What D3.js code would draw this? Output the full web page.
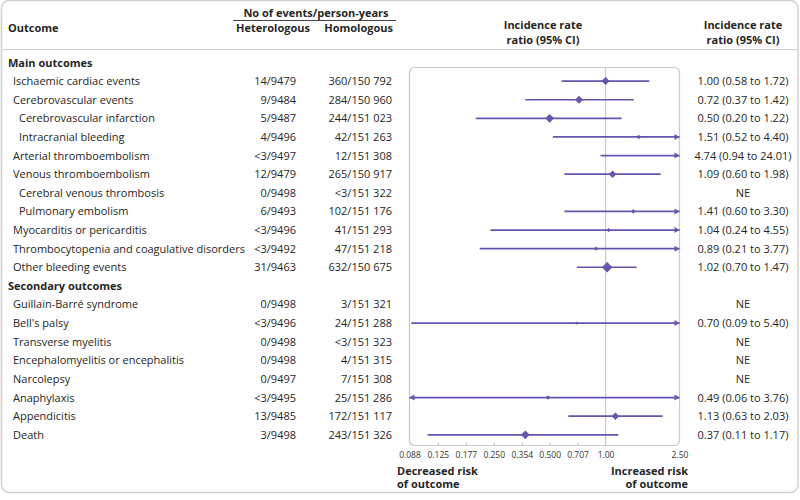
<!DOCTYPE html>
<html><head><meta charset="utf-8">
<script src="https://cdn.jsdelivr.net/npm/d3@7"></script>
<style>
body{margin:0;background:#fff;}
text{font-family:"Open Sans",sans-serif;fill:#262626;}
</style></head>
<body>
<svg id="c" width="800" height="500"></svg>
<script>
const outcomes = ["Main outcomes","Ischaemic cardiac events","Cerebrovascular events","Cerebrovascular infarction","Intracranial bleeding","Arterial thromboembolism","Venous thromboembolism","Cerebral venous thrombosis","Pulmonary embolism","Myocarditis or pericarditis","Thrombocytopenia and coagulative disorders","Other bleeding events","Secondary outcomes","Guillain-Barré syndrome","Bell's palsy","Transverse myelitis","Encephalomyelitis or encephalitis","Narcolepsy","Anaphylaxis","Appendicitis","Death"];
const levels = [0,1,1,2,2,1,1,2,2,1,1,1,0,1,1,1,1,1,1,1,1];
const heterologous = ["","14/9479","9/9484","5/9487","4/9496","<3/9497","12/9479","0/9498","6/9493","<3/9496","<3/9492","31/9463","","0/9498","<3/9496","0/9498","0/9498","0/9497","<3/9495","13/9485","3/9498"];
const homologous = ["","360/150 792","284/150 960","244/151 023","42/151 263","12/151 308","265/150 917","<3/151 322","102/151 176","41/151 293","47/151 218","632/150 675","","3/151 321","24/151 288","<3/151 323","4/151 315","7/151 308","25/151 286","172/151 117","243/151 326"];
const irr = [null,1.00,0.72,0.50,1.51,4.74,1.09,null,1.41,1.04,0.89,1.02,null,null,0.70,null,null,null,0.49,1.13,0.37];
const lower = [null,0.58,0.37,0.20,0.52,0.94,0.60,null,0.60,0.24,0.21,0.70,null,null,0.09,null,null,null,0.06,0.63,0.11];
const upper = [null,1.72,1.42,1.22,4.40,24.01,1.98,null,3.30,4.55,3.77,1.47,null,null,5.40,null,null,null,3.76,2.03,1.17];
const weights = [0,4,4,4.4,2.3,0,3.8,0,2.3,2.1,2.1,5.2,0,0,1.7,0,0,0,2.3,3.8,4.4];
const ciText = ["","1.00 (0.58 to 1.72)","0.72 (0.37 to 1.42)","0.50 (0.20 to 1.22)","1.51 (0.52 to 4.40)","4.74 (0.94 to 24.01)","1.09 (0.60 to 1.98)","NE","1.41 (0.60 to 3.30)","1.04 (0.24 to 4.55)","0.89 (0.21 to 3.77)","1.02 (0.70 to 1.47)","","NE","0.70 (0.09 to 5.40)","NE","NE","NE","0.49 (0.06 to 3.76)","1.13 (0.63 to 2.03)","0.37 (0.11 to 1.17)"];
const tickValues = [0.088,0.125,0.177,0.250,0.354,0.500,0.707,1.00,2.50];
const tickLabels = ["0.088","0.125","0.177","0.250","0.354","0.500","0.707","1.00","2.50"];
const domain = [0.088,2.50];

const svg = d3.select("#c");
const purple = "#6654ad";
const FS = 11;

// outer frame
svg.append("rect").attr("x",1.5).attr("y",0.5).attr("width",796.5).attr("height",492).attr("rx",8)
  .attr("fill","#fff").attr("stroke","#cfcfd3").attr("stroke-width",1.5);
svg.append("line").attr("x1",1.5).attr("x2",798).attr("y1",49.5).attr("y2",49.5).attr("stroke","#d0d0d4").attr("stroke-width",1.2);

// headers
svg.append("text").attr("x",8).attr("y",32).attr("font-size",FS).attr("font-weight",700).text("Outcome");
svg.append("text").attr("x",316).attr("y",17).attr("text-anchor","middle").attr("font-size",FS).attr("font-weight",700).text("No of events/person-years");
svg.append("line").attr("x1",233).attr("x2",396).attr("y1",20.5).attr("y2",20.5).attr("stroke","#444").attr("stroke-width",1);
svg.append("text").attr("x",310).attr("y",32).attr("text-anchor","end").attr("font-size",FS).attr("font-weight",700).text("Heterologous");
svg.append("text").attr("x",393).attr("y",32).attr("text-anchor","end").attr("font-size",FS).attr("font-weight",700).text("Homologous");
[[543,"Incidence rate",29],[543,"ratio (95% CI)",43.5],[743,"Incidence rate",29],[743,"ratio (95% CI)",43.5]].forEach(d=>{
  svg.append("text").attr("x",d[0]).attr("y",d[2]).attr("text-anchor","middle").attr("font-size",FS).attr("font-weight",700).text(d[1]);
});

const x = d3.scaleLog().domain(domain).range([409.5,679.5]);
const y = d3.scaleLinear().domain([0,20]).range([62.5,434.8]);

// plot panel
svg.append("rect").attr("x",x.range()[0]).attr("y",67.5).attr("width",x.range()[1]-x.range()[0]).attr("height",378)
  .attr("rx",5).attr("fill","none").attr("stroke","#c9c9cd").attr("stroke-width",1.2);
svg.append("line").attr("x1",x(1)).attr("x2",x(1)).attr("y1",68).attr("y2",445).attr("stroke","#c9c9cd").attr("stroke-width",1.2);

// axis ticks
const axis = d3.axisBottom(x).tickValues(tickValues).tickFormat((d,i)=>tickLabels[i]).tickSize(0).tickPadding(0);
const ag = svg.append("g").attr("transform","translate(0,445.5)").call(axis);
ag.select(".domain").remove();
ag.selectAll("text").attr("font-size",8.5).attr("dy",0).attr("y",12).style("font-family","Open Sans").style("fill","#333");
ag.selectAll(".tick").filter(d=>d>0.09 && d<0.99).append("line").attr("y1",-3).attr("y2",0).attr("stroke","#bbb");

// rows
const rows = svg.append("g");
outcomes.forEach((o,i)=>{
  const yy = y(i);
  const lx = levels[i]===0?8:(levels[i]===1?13:19);
  rows.append("text").attr("x",lx).attr("y",yy+4).attr("font-size",FS).attr("font-weight",levels[i]===0?700:400).text(o);
  if(heterologous[i]) rows.append("text").attr("x",296).attr("y",yy+4).attr("text-anchor","end").attr("font-size",FS).text(heterologous[i]);
  if(homologous[i]) rows.append("text").attr("x",392).attr("y",yy+4).attr("text-anchor","end").attr("font-size",FS).text(homologous[i]);
  if(ciText[i]) rows.append("text").attr("x",743).attr("y",yy+4).attr("text-anchor","middle").attr("font-size",FS).text(ciText[i]);
  if(lower[i]!=null){
    const lo = Math.max(lower[i],domain[0]), hi = Math.min(upper[i],domain[1]);
    const x1 = x(lo), x2 = x(hi);
    rows.append("line").attr("x1",x1).attr("x2",x2).attr("y1",yy).attr("y2",yy).attr("stroke",purple).attr("stroke-width",1.7);
    if(upper[i]>domain[1]){
      rows.append("path").attr("d",`M${x2},${yy}l-5,-3v6z`).attr("fill",purple);
    }
    if(lower[i]<domain[0]){
      rows.append("path").attr("d",`M${x1},${yy}l5,-3v6z`).attr("fill",purple);
    }
    if(irr[i]<=domain[1] && weights[i]>0){
      const s = weights[i], cx = x(irr[i]);
      rows.append("path").attr("d",`M${cx},${yy-s}L${cx+s},${yy}L${cx},${yy+s}L${cx-s},${yy}Z`).attr("fill",purple);
    }
  }
});

// bottom labels
[["Decreased risk",397,474.5,"start"],["of outcome",397,488,"start"],["Increased risk",688,474.5,"end"],["of outcome",688,488,"end"]].forEach(d=>{
  svg.append("text").attr("x",d[1]).attr("y",d[2]).attr("text-anchor",d[3]).attr("font-size",FS).attr("font-weight",700).text(d[0]);
});
</script>
</body></html>
